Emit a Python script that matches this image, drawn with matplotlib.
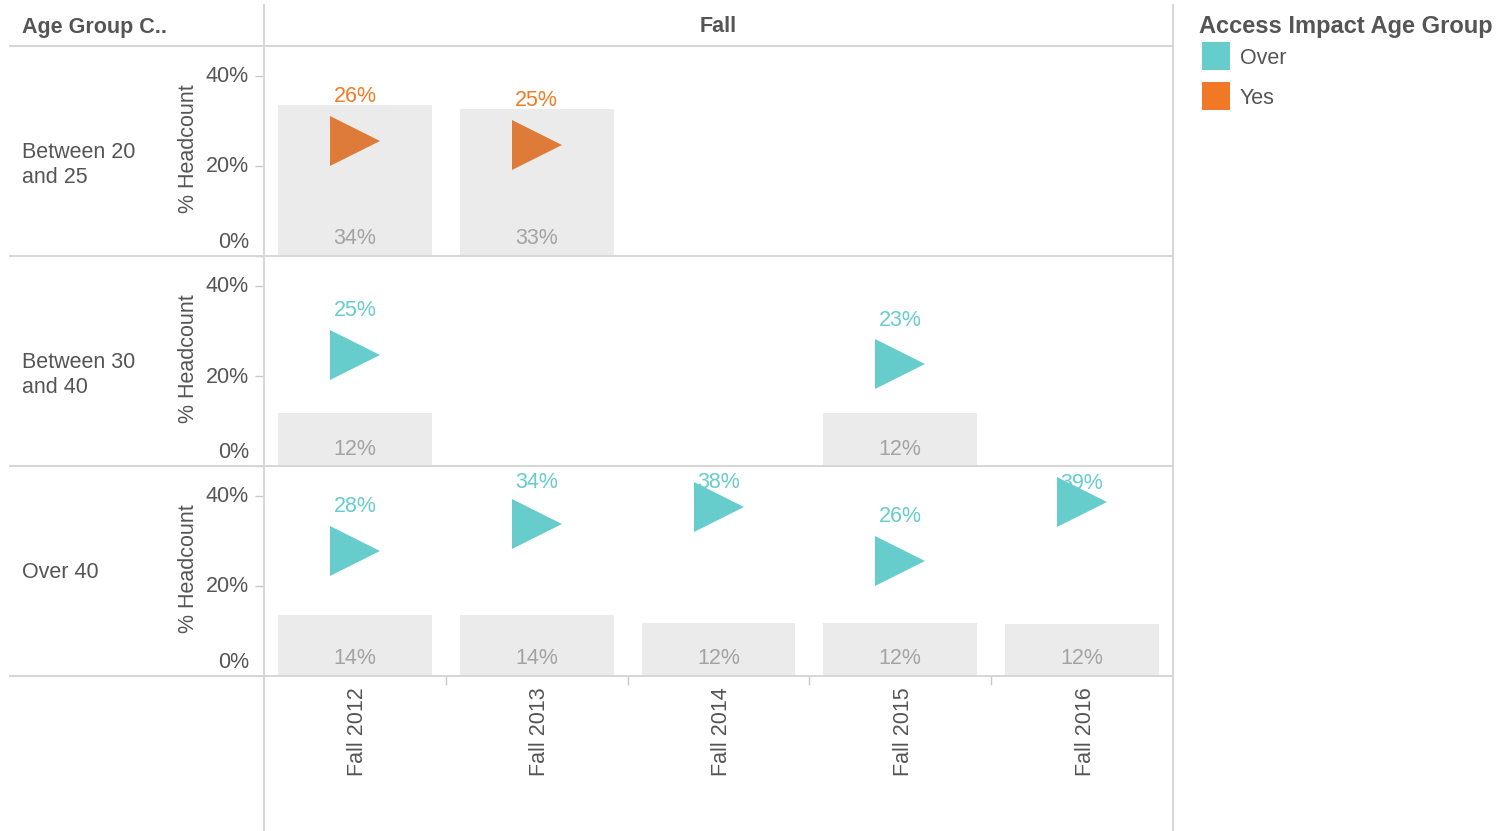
import matplotlib
matplotlib.use("Agg")
import matplotlib.pyplot as plt
from matplotlib.lines import Line2D
from matplotlib.patches import Rectangle
import numpy as np

plt.rcParams['font.family'] = ['Liberation Sans', 'DejaVu Sans']

# ---------------- data ----------------
periods = ['Fall 2012', 'Fall 2013', 'Fall 2014', 'Fall 2015', 'Fall 2016']
groups = ['Between 20\nand 25', 'Between 30\nand 40', 'Over 40']
# % headcount (gray bars); None = no bar
headcount_20_25 = [33.6, 32.7, None, None, None]
headcount_30_40 = [11.8, None, None, 11.8, None]
headcount_over40 = [13.6, 13.6, 11.8, 11.8, 11.6]
# access impact (triangles); None = no mark
impact_20_25 = [25.6, 24.7, None, None, None]
impact_30_40 = [24.7, None, None, 22.6, None]
impact_over40 = [27.8, 33.8, 37.6, 25.6, 38.7]
impact_group = ['Yes', 'Over', 'Over']
legend_items = ['Over', 'Yes']
yticks = [0, 20, 40]
ytick_labels = ['0%', '20%', '40%']

headcounts = [headcount_20_25, headcount_30_40, headcount_over40]
impacts = [impact_20_25, impact_30_40, impact_over40]

# ---------------- style ----------------
W, H = 1501, 831
TEAL = '#66CCCC'
ORANGE_MARK = '#DF7B39'
ORANGE_TEXT = '#F07B25'
ORANGE_LEG = '#F07826'
mark_colors = {'Over': TEAL, 'Yes': ORANGE_MARK}
text_colors = {'Over': TEAL, 'Yes': ORANGE_TEXT}
legend_colors = {'Over': TEAL, 'Yes': ORANGE_LEG}
BAR = '#EBEBEB'
BAR_TXT = '#A3A3A3'
TXT = '#555555'
LINE = '#D6D6D6'
FS = 15.5
DY = 2  # text baseline nudge (px)

def fx(x):
    return x / W

def fy(y):
    return 1 - y / H

def pt(px):
    return px * 72 / 100

fig = plt.figure(figsize=(W / 100, H / 100), dpi=100)

row_tops = [46, 256, 466]
row_h = 210
left, right = 264, 1173
ppp = 4.5  # px per percent
ymax = row_h / ppp

axes = []
for r in range(3):
    top = row_tops[r]
    ax = fig.add_axes([fx(left), fy(top + row_h), fx(right - left), row_h / H])
    ax.set_xlim(-0.5, len(periods) - 0.5)
    ax.set_ylim(0, ymax)
    for s in ax.spines.values():
        s.set_visible(False)
    ax.patch.set_alpha(0)

    # bars
    hc = headcounts[r]
    for i, v in enumerate(hc):
        if v is None:
            continue
        ax.bar(i, v, width=0.846, color=BAR, zorder=1)
        ax.annotate(f"{round(v)}%", xy=(i, 0), xytext=(0, pt(19 - DY)),
                    textcoords='offset points', ha='center', va='center',
                    fontsize=FS, color=BAR_TXT, zorder=2)
    # triangles
    im = impacts[r]
    g = impact_group[r]
    for i, v in enumerate(im):
        if v is None:
            continue
        # label 46 px above mark, but kept inside the pane (>= 15 px below top)
        mark_px_from_top = (ymax - v) * ppp
        off = min(46, mark_px_from_top - 15)
        ax.annotate(f"{round(v)}%", xy=(i, v), xytext=(0, pt(off - DY)),
                    textcoords='offset points', ha='center', va='center',
                    fontsize=FS, color=text_colors[g], zorder=3)
        ax.plot([i], [v], marker='>', markersize=pt(50), color=mark_colors[g],
                markeredgewidth=0, linestyle='none', zorder=4)

    # y ticks
    ax.set_yticks(yticks)
    ax.set_yticklabels([])
    ax.tick_params(axis='y', length=pt(9), width=1, color='#C8C8C8')
    for t, lab in zip(yticks, ytick_labels):
        off = 15 if t == 0 else 0
        ax.annotate(lab, xy=(0, t), xycoords=('axes fraction', 'data'),
                    xytext=(-pt(15), pt(off - 1)), textcoords='offset points',
                    ha='right', va='center', fontsize=FS, color=TXT)

    # x ticks
    if r == 2:
        ax.set_xticks(range(len(periods)))
        ax.set_xticklabels(periods, rotation=90, fontsize=FS, color=TXT)
        ax.tick_params(axis='x', which='major', length=0, pad=pt(11))
        ax.set_xticks(np.arange(0.5, len(periods) - 0.5, 1), minor=True)
        ax.tick_params(axis='x', which='minor', length=pt(9), width=1, color='#C8C8C8')
    else:
        ax.set_xticks([])
    axes.append(ax)

    # axis title and row label
    cy = top + row_h / 2
    fig.text(fx(189), fy(cy - 2), '% Headcount', rotation=90, ha='center', va='center',
             fontsize=FS, color=TXT)
    lab = groups[r]
    ly = cy + 12 if '\n' in lab else cy
    fig.text(fx(22), fy(ly + DY), lab, ha='left', va='center', fontsize=FS,
             color=TXT, linespacing=1.2)

# nudge x tick labels right a bit
import matplotlib.transforms as mtransforms
for lbl in axes[2].get_xticklabels():
    lbl.set_transform(lbl.get_transform() + mtransforms.ScaledTranslation(3 / 100, 0, fig.dpi_scale_trans))

# ---------------- grid lines ----------------
def hline(y, x0, x1):
    fig.add_artist(Line2D([fx(x0), fx(x1)], [fy(y), fy(y)], color=LINE, lw=1.4))

def vline(x, y0, y1):
    fig.add_artist(Line2D([fx(x), fx(x)], [fy(y0), fy(y1)], color=LINE, lw=1.4))

hline(46, 10, 1173)
for y in (256, 466, 676):
    hline(y, 10, 1173)
vline(264, 5, 831)
vline(1173, 5, 831)

# headers
fig.text(fx(22), fy(25 + DY), 'Age Group C..', ha='left', va='center', fontsize=FS,
         fontweight='bold', color=TXT)
fig.text(fx((left + right) / 2), fy(25 + DY), 'Fall', ha='center', va='center', fontsize=FS,
         fontweight='bold', color=TXT)

# legend
fig.text(fx(1199), fy(24 + DY), 'Access Impact Age Group', ha='left', va='center',
         fontsize=17, fontweight='bold', color=TXT)
for k, name in enumerate(legend_items):
    y0 = 42 + k * 40
    fig.add_artist(Rectangle((fx(1202), fy(y0 + 28)), 28 / W, 28 / H,
                             transform=fig.transFigure, color=legend_colors[name], lw=0))
    fig.text(fx(1240), fy(y0 + 14 + DY), name, ha='left', va='center', fontsize=FS, color=TXT)

fig.savefig('out.png', dpi=100)
